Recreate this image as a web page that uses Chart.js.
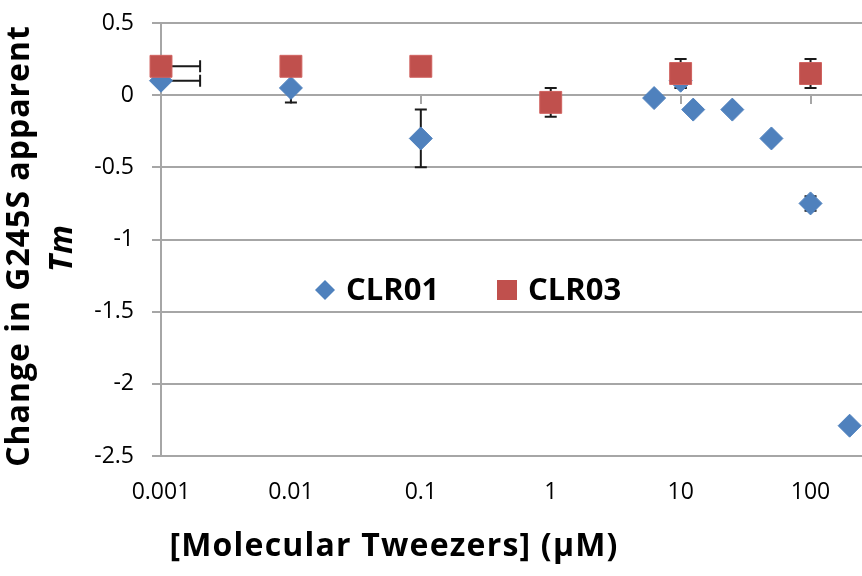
<!DOCTYPE html>
<html>
<head>
<meta charset="utf-8">
<title>Change in G245S apparent Tm</title>
<script src="https://cdn.jsdelivr.net/npm/chart.js@4.4.1/dist/chart.umd.min.js"></script>
<style>
    html, body { margin: 0; padding: 0; background: #fff; }
    canvas { display: block; }
</style>
</head>
<body>
<canvas id="tmChart" width="862" height="576"></canvas>
<script>
// ==========================================
// 1. DATA
// ==========================================
const xTicks = [0.001, 0.01, 0.1, 1, 10, 100];
const xTickLabels = ['0.001', '0.01', '0.1', '1', '10', '100'];
const yTicks = [-2.5, -2, -1.5, -1, -0.5, 0, 0.5];
const yTickLabels = ['-2.5', '-2', '-1.5', '-1', '-0.5', '0', '0.5'];

// CLR01 (blue diamonds)
const clr01X = [0.001, 0.01, 0.1, 6.25, 10, 12.5, 25, 50, 100, 200];
const clr01Y = [0.1, 0.05, -0.3, -0.02, 0.1, -0.1, -0.1, -0.3, -0.75, -2.29];
const clr01YErr = [0, 0.1, 0.2, 0.02, 0.05, 0, 0, 0, 0.05, 0];
const clr01XErrPlus = [0.001, 0, 0, 0, 0, 0, 0, 0, 0, 0];

// CLR03 (red squares)
const clr03X = [0.001, 0.01, 0.1, 1, 10, 100];
const clr03Y = [0.2, 0.2, 0.2, -0.05, 0.15, 0.15];
const clr03YErr = [0, 0, 0, 0.1, 0.1, 0.1];
const clr03XErrPlus = [0.001, 0, 0, 0, 0, 0];

const FONT = "'Open Sans', 'Noto Sans', sans-serif";
const GRID = '#a6a6a6';

// ==========================================
// 2. PLUGINS: error bars, axis ticks, titles, legend
// ==========================================
const errorBars = {
    id: 'errorBars',
    beforeDatasetsDraw(chart) {
        const { ctx, scales: { x, y } } = chart;
        ctx.save();

        // small tick marks hanging under the zero line (axis crosses at 0)
        ctx.strokeStyle = GRID;
        ctx.lineWidth = 2;
        const y0 = Math.round(y.getPixelForValue(0));
        xTicks.forEach(v => {
            const px = Math.round(x.getPixelForValue(v));
            ctx.beginPath();
            ctx.moveTo(px, y0);
            ctx.lineTo(px, y0 + 9);
            ctx.stroke();
        });

        ctx.strokeStyle = '#1a1a1a';
        ctx.lineWidth = 2;
        const cap = 6;
        chart.data.datasets.forEach(ds => {
            ds.data.forEach((pt, i) => {
                const px = x.getPixelForValue(pt.x);
                const py = y.getPixelForValue(pt.y);
                const e = ds.yErr[i];
                if (e) {
                    const top = y.getPixelForValue(pt.y + e);
                    const bot = y.getPixelForValue(pt.y - e);
                    ctx.beginPath();
                    ctx.moveTo(px, top); ctx.lineTo(px, bot);
                    ctx.moveTo(px - cap, top); ctx.lineTo(px + cap, top);
                    ctx.moveTo(px - cap, bot); ctx.lineTo(px + cap, bot);
                    ctx.stroke();
                }
                const ex = ds.xErrPlus[i];
                if (ex) {
                    const right = x.getPixelForValue(pt.x + ex);
                    ctx.beginPath();
                    ctx.moveTo(px, py); ctx.lineTo(right, py);
                    ctx.moveTo(right, py - cap); ctx.lineTo(right, py + cap);
                    ctx.stroke();
                }
            });
        });
        ctx.restore();
    }
};

const titlesAndLegend = {
    id: 'titlesAndLegend',
    afterDraw(chart) {
        const { ctx } = chart;
        ctx.save();
        ctx.fillStyle = '#000';

        // y axis title, two lines, second one italic
        ctx.save();
        ctx.translate(29, 246);
        ctx.rotate(-Math.PI / 2);
        ctx.textAlign = 'center';
        ctx.textBaseline = 'alphabetic';
        ctx.letterSpacing = '1px';
        ctx.font = 'bold 32px ' + FONT;
        ctx.fillText('Change in G245S apparent', 0, 0);
        ctx.font = 'italic bold 32px ' + FONT;
        ctx.fillText('Tm', -2, 43);
        ctx.restore();

        // x axis title
        ctx.save();
        ctx.letterSpacing = '1.2px';
        ctx.font = 'bold 32px ' + FONT;
        ctx.textAlign = 'center';
        ctx.textBaseline = 'alphabetic';
        ctx.fillText('[Molecular Tweezers] (\u03bcM)', 394, 556);
        ctx.restore();

        // legend inside the plot
        const ds = chart.data.datasets;
        const ly = 290;
        ctx.fillStyle = ds[0].backgroundColor;
        ctx.beginPath();
        ctx.moveTo(325, ly - 10); ctx.lineTo(335, ly);
        ctx.lineTo(325, ly + 10); ctx.lineTo(315, ly);
        ctx.closePath();
        ctx.fill();
        ctx.fillStyle = ds[1].backgroundColor;
        ctx.fillRect(497, ly - 10, 20, 20);

        ctx.font = 'bold 31px ' + FONT;
        ctx.fillStyle = '#000';
        ctx.textAlign = 'left';
        ctx.textBaseline = 'middle';
        ctx.fillText(ds[0].label, 346, ly + 1);
        ctx.fillText(ds[1].label, 528, ly + 1);
        ctx.restore();
    }
};

// ==========================================
// 3. CHART.JS SETUP
// ==========================================
const ctx = document.getElementById('tmChart').getContext('2d');

const tmChart = new Chart(ctx, {
    type: 'scatter',
    data: {
        datasets: [
            {
                label: 'CLR01',
                data: clr01X.map((v, i) => ({ x: v, y: clr01Y[i] })),
                yErr: clr01YErr,
                xErrPlus: clr01XErrPlus,
                pointStyle: 'rectRot',
                pointRadius: 11.5,
                pointHoverRadius: 11.5,
                backgroundColor: '#4f81bd',
                borderColor: '#4f81bd',
                borderWidth: 1,
                clip: false,
                order: 2
            },
            {
                label: 'CLR03',
                data: clr03X.map((v, i) => ({ x: v, y: clr03Y[i] })),
                yErr: clr03YErr,
                xErrPlus: clr03XErrPlus,
                pointStyle: 'rect',
                pointRadius: 15.5,
                pointHoverRadius: 15.5,
                backgroundColor: '#c0504d',
                borderColor: '#d0625f',
                borderWidth: 1,
                clip: false,
                order: 1
            }
        ]
    },
    options: {
        responsive: false,
        animation: false,
        layout: { autoPadding: false, padding: { top: 23, left: 0, right: 0, bottom: 0 } },
        plugins: {
            legend: { display: false },
            tooltip: { enabled: false }
        },
        scales: {
            x: {
                type: 'logarithmic',
                min: 0.001,
                max: 249,
                grid: { display: false },
                border: { display: false },
                ticks: {
                    autoSkip: false,
                    maxRotation: 0,
                    color: '#000',
                    padding: 15,
                    font: { family: FONT, size: 23 },
                    callback: (v) => {
                        const i = xTicks.indexOf(v);
                        return i >= 0 ? xTickLabels[i] : '';
                    }
                },
                afterBuildTicks: s => { s.ticks = xTicks.map(v => ({ value: v })); },
                afterFit: s => {
                    s.height = 120;
                    s.paddingLeft = 0; s.paddingRight = 0;
                    s.paddingTop = 0; s.paddingBottom = 0;
                }
            },
            y: {
                min: -2.5,
                max: 0.5,
                grid: { color: GRID, lineWidth: 2, tickLength: 9 },
                border: { color: GRID, width: 2 },
                ticks: {
                    color: '#000',
                    padding: 18,
                    font: { family: FONT, size: 23 },
                    callback: (v) => {
                        const i = yTicks.indexOf(Math.round(v * 10) / 10);
                        return i >= 0 ? yTickLabels[i] : '';
                    }
                },
                afterBuildTicks: s => { s.ticks = yTicks.map(v => ({ value: v })); },
                afterFit: s => {
                    s.width = 161;
                    s.paddingLeft = 0; s.paddingRight = 0;
                    s.paddingTop = 0; s.paddingBottom = 0;
                }
            }
        }
    },
    plugins: [errorBars, titlesAndLegend]
});
</script>
</body>
</html>
